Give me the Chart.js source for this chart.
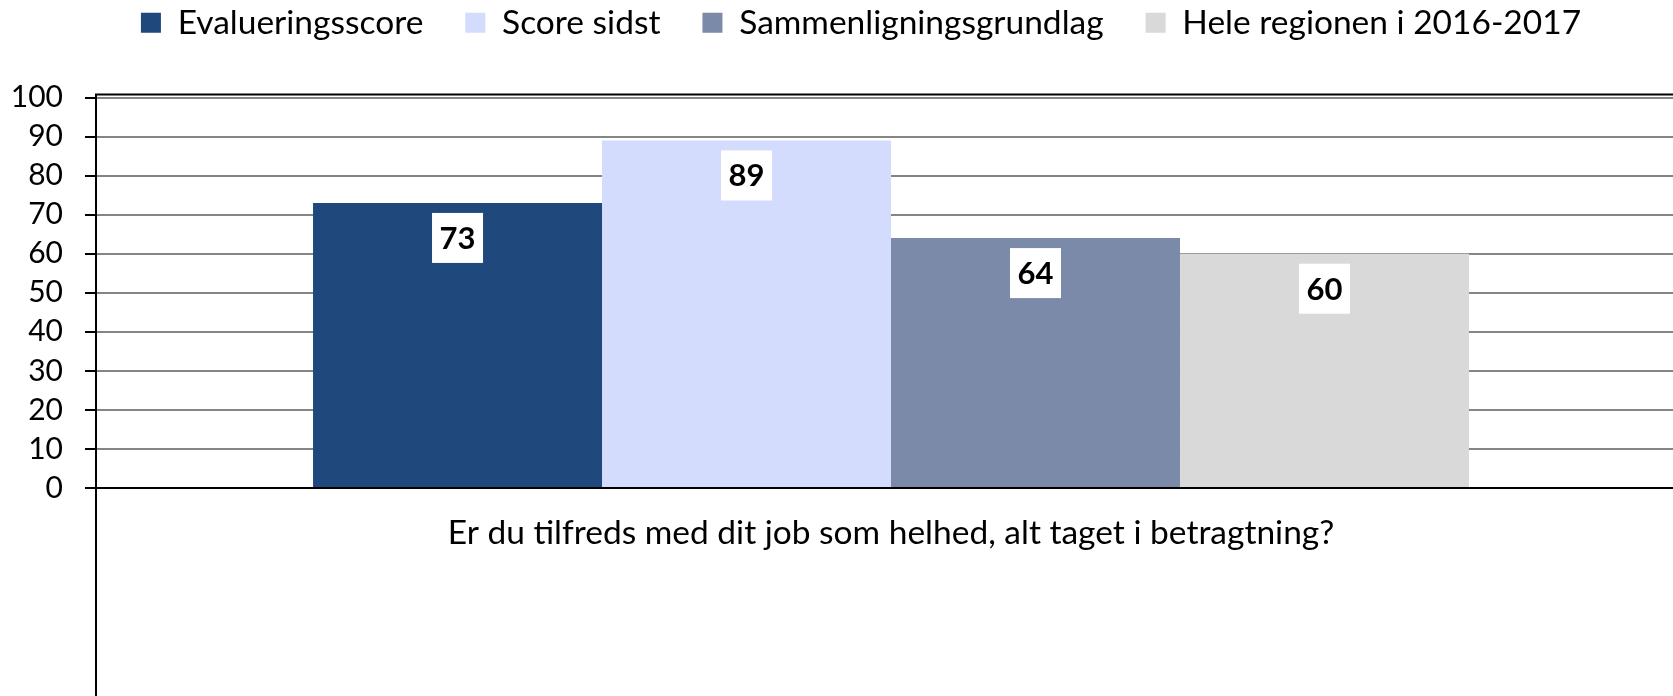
<!DOCTYPE html>
<html>
<head>
<meta charset="utf-8">
<script src="https://cdn.jsdelivr.net/npm/chart.js@4/dist/chart.umd.min.js"></script>
<style>
  html, body { margin: 0; padding: 0; background: #fff; overflow: hidden; }
  #wrap { width: 1690px; height: 696px; }
</style>
</head>
<body>
<div id="wrap"><canvas id="chart"></canvas></div>
<script>
// --- DATA ---
const categories = ['Er du tilfreds med dit job som helhed, alt taget i betragtning?'];
const seriesNames = ['Evalueringsscore', 'Score sidst', 'Sammenligningsgrundlag', 'Hele regionen i 2016-2017'];
const evalueringsscore = [73];
const scoreSidst = [89];
const sammenligningsgrundlag = [64];
const heleRegionen = [60];
const yTicks = [0, 10, 20, 30, 40, 50, 60, 70, 80, 90, 100];

const seriesValues = [evalueringsscore, scoreSidst, sammenligningsgrundlag, heleRegionen];
const seriesColors = ['#1F497D', '#D3DCFD', '#7A8AA8', '#D9D9D9'];

const FONT = 'Lato';
const TEXT_SIZE = 33.5;   // legend + category label
const TICK_SIZE = 30;
const VALUE_SIZE = 31;

// --- PLUGINS ---
// white boxes with bold values just inside the bar ends
const valueBoxes = {
    id: 'valueBoxes',
    afterDatasetsDraw(chart) {
        const ctx = chart.ctx;
        ctx.save();
        ctx.font = `bold ${VALUE_SIZE}px ${FONT}`;
        ctx.textAlign = 'center';
        ctx.textBaseline = 'middle';
        chart.data.datasets.forEach((ds, i) => {
            chart.getDatasetMeta(i).data.forEach((bar, j) => {
                const w = 51, h = 50;
                const top = bar.y + 10;
                ctx.fillStyle = '#fff';
                ctx.fillRect(bar.x - w / 2, top, w, h);
                ctx.fillStyle = '#000';
                ctx.fillText(String(ds.data[j]), bar.x, top + h / 2 + 1);
            });
        });
        ctx.restore();
    }
};

// legend sits close to the top edge, slightly right of centre
const legendShift = {
    id: 'legendShift',
    afterLayout(chart) {
        const lg = chart.legend;
        lg.top -= 48; lg.bottom -= 48;
        lg.left += 18; lg.right += 18;
    }
};

// plot frame: top edge and a left edge running down to the bottom
const plotFrame = {
    id: 'plotFrame',
    afterDraw(chart) {
        const { ctx, chartArea } = chart;
        ctx.save();
        ctx.strokeStyle = '#000';
        ctx.lineWidth = 2;
        ctx.beginPath();
        ctx.moveTo(chartArea.left, chartArea.top - 3);
        ctx.lineTo(chartArea.right, chartArea.top - 3);
        ctx.moveTo(chartArea.left, chartArea.top - 4);
        ctx.lineTo(chartArea.left, chart.height);
        ctx.stroke();
        ctx.restore();
    }
};

// --- CHART ---
new Chart(document.getElementById('chart'), {
    type: 'bar',
    data: {
        labels: categories,
        datasets: seriesNames.map((name, i) => ({
            label: name,
            data: seriesValues[i],
            backgroundColor: seriesColors[i],
            borderWidth: 0,
            barPercentage: 1,
            categoryPercentage: 0.727
        }))
    },
    options: {
        responsive: true,
        maintainAspectRatio: false,
        animation: false,
        layout: { padding: { top: 12, left: 0, right: 4, bottom: 0 } },
        plugins: {
            legend: {
                position: 'top',
                labels: {
                    color: '#000',
                    boxWidth: 20,
                    boxHeight: 20,
                    padding: 42,
                    font: { family: FONT, size: TEXT_SIZE }
                }
            },
            tooltip: { enabled: false }
        },
        scales: {
            x: {
                grid: { display: false, drawTicks: false },
                border: { color: '#000', width: 2 },
                ticks: {
                    color: '#000',
                    padding: 25,
                    font: { family: FONT, size: TEXT_SIZE }
                },
                afterFit(scale) { scale.height = 208; }
            },
            y: {
                min: 0,
                max: 100,
                afterBuildTicks(scale) { scale.ticks = yTicks.map(v => ({ value: v })); },
                grid: { color: '#858585', lineWidth: 2, tickLength: 11, tickColor: '#000' },
                border: { color: '#000', width: 2 },
                ticks: {
                    color: '#000',
                    padding: 22,
                    autoSkip: false,
                    font: { family: FONT, size: TICK_SIZE }
                },
                afterFit(scale) { scale.width = 96; }
            }
        }
    },
    plugins: [valueBoxes, legendShift, plotFrame]
});
</script>
</body>
</html>
